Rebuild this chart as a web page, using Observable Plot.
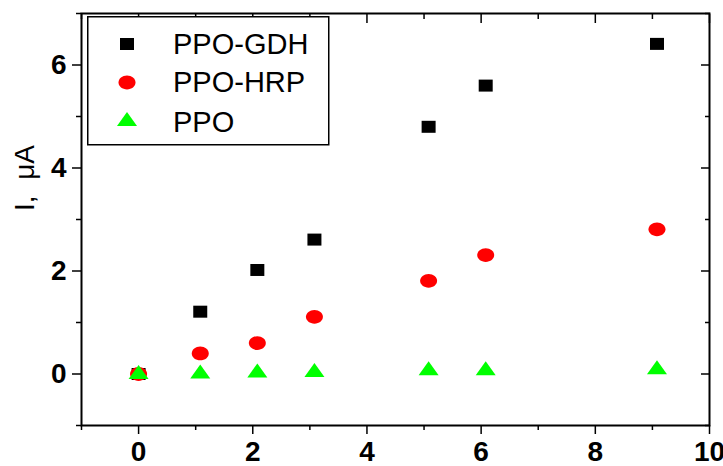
<!DOCTYPE html>
<html><head><meta charset="utf-8">
<script src="https://cdn.jsdelivr.net/npm/d3@7"></script>
<script src="https://cdn.jsdelivr.net/npm/@observablehq/plot@0.6"></script>
<style>
body{margin:0;background:#fff;}
#wrap{position:relative;width:723px;height:466px;font-family:"Liberation Sans",Arial,sans-serif;}
#legend{position:absolute;left:87px;top:16px;}
</style></head><body><div id="wrap"></div>
<script>
// ---- data ----
const xValues = [0, 1.08, 2.08, 3.08, 5.08, 6.08, 9.08];
const gdhValues = [0, 1.21, 2.02, 2.61, 4.80, 5.60, 6.41];
const hrpValues = [0, 0.40, 0.60, 1.11, 1.81, 2.31, 2.81];
const ppoValues = [0.04, 0.05, 0.07, 0.08, 0.11, 0.11, 0.13];
const seriesNames = ["PPO-GDH", "PPO-HRP", "PPO"];
const seriesColors = ["#000000", "#ff0000", "#00ff00"];
const xMajorTicks = [0, 2, 4, 6, 8, 10];
const xMinorTicks = [-1, 1, 3, 5, 7, 9];
const yMajorTicks = [0, 2, 4, 6];
const yMinorTicks = [-1, 1, 3, 5, 7];
const yLabel = "I,\u00a0 \u03bcA";

// ---- symbols ----
const squareSym = {draw(c) { c.moveTo(-7, -6); c.lineTo(7, -6); c.lineTo(7, 6); c.lineTo(-7, 6); c.closePath(); }};
function ellipseSym(rx, ry) {
  const k = 0.5523;
  return {draw(c) {
    c.moveTo(rx, 0);
    c.bezierCurveTo(rx, ry * k, rx * k, ry, 0, ry);
    c.bezierCurveTo(-rx * k, ry, -rx, ry * k, -rx, 0);
    c.bezierCurveTo(-rx, -ry * k, -rx * k, -ry, 0, -ry);
    c.bezierCurveTo(rx * k, -ry, rx, -ry * k, rx, 0);
    c.closePath();
  }};
}
const circleSym = ellipseSym(8.5, 6.9);
const triSym = {draw(c) { c.moveTo(0, -7); c.lineTo(10, 7); c.lineTo(-10, 7); c.closePath(); }};
const seriesSymbols = [squareSym, circleSym, triSym];
const seriesValues = [gdhValues, hrpValues, ppoValues];

const tables = seriesValues.map(vals => xValues.map((x, i) => ({x, y: vals[i]})));

const blank = () => "";
const font = "Liberation Sans, Arial, sans-serif";

const chart = Plot.plot({
  width: 723, height: 466,
  marginLeft: 81, marginRight: 14, marginTop: 13, marginBottom: 41,
  style: {fontFamily: font, background: "white", color: "black"},
  x: {domain: [-1, 10]},
  y: {domain: [-1, 7]},
  marks: [
    ...tables.map((t, s) => Plot.dot(t, {x: "x", y: "y", symbol: seriesSymbols[s], fill: seriesColors[s], stroke: "none", r: 5})),
    Plot.frame({stroke: "black", strokeWidth: 2}),
    Plot.axisX({ticks: xMajorTicks, anchor: "bottom", tickSize: 9, tickPadding: 7, fontSize: 28, fontWeight: "bold", label: null, strokeWidth: 1.5}),
    Plot.axisX({ticks: xMinorTicks, anchor: "bottom", tickSize: 5, tickFormat: blank, label: null, strokeWidth: 1.5}),
    Plot.axisX({ticks: xMajorTicks, anchor: "top", tickSize: -9, tickFormat: blank, label: null, strokeWidth: 1.5}),
    Plot.axisX({ticks: xMinorTicks, anchor: "top", tickSize: -5, tickFormat: blank, label: null, strokeWidth: 1.5}),
    Plot.axisY({ticks: yMajorTicks, anchor: "left", tickSize: 9, tickPadding: 6, fontSize: 28, fontWeight: "bold", label: null, strokeWidth: 1.5}),
    Plot.axisY({ticks: yMinorTicks, anchor: "left", tickSize: 5, tickFormat: blank, label: null, strokeWidth: 1.5}),
    Plot.axisY({ticks: yMajorTicks, anchor: "right", tickSize: -9, tickFormat: blank, label: null, strokeWidth: 1.5}),
    Plot.axisY({ticks: yMinorTicks, anchor: "right", tickSize: -5, tickFormat: blank, label: null, strokeWidth: 1.5}),
    Plot.text([yLabel], {text: d => d, frameAnchor: "left", rotate: -90, fontSize: 28, lineAnchor: "bottom", textAnchor: "middle", dx: -48, dy: -41.5})
  ]
});
document.getElementById("wrap").appendChild(chart);

// ---- legend ----
const lg = d3.select("#wrap").append("svg").attr("id", "legend").attr("width", 243).attr("height", 130);
lg.append("rect").attr("x", 0.75).attr("y", 0.75).attr("width", 241).attr("height", 128)
  .attr("fill", "white").attr("stroke", "black").attr("stroke-width", 1.5);
const markerY = [28, 66.5, 103];
const textY = [38, 76, 115.7];
seriesNames.forEach((name, i) => {
  lg.append("path").attr("d", d3.symbol().type(seriesSymbols[i])())
    .attr("transform", `translate(40,${markerY[i]})`).attr("fill", seriesColors[i]);
  lg.append("text").attr("x", 86).attr("y", textY[i]).attr("font-size", 29)
    .attr("font-family", font).attr("fill", "black").text(name);
});
</script>
</body></html>
